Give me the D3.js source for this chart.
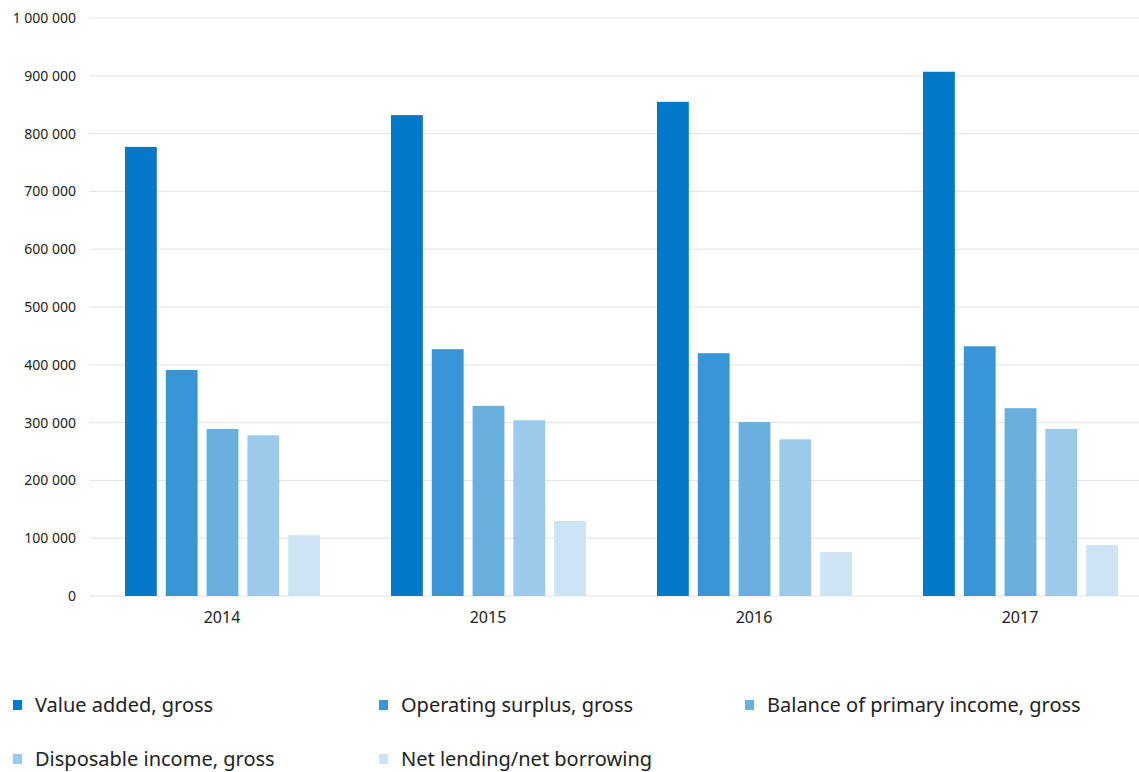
<!DOCTYPE html>
<html>
<head>
<meta charset="utf-8">
<script src="https://cdn.jsdelivr.net/npm/d3@7"></script>
<style>
html,body{margin:0;padding:0;background:#fff;}
svg{display:block;font-family:"Noto Sans",sans-serif;}
</style>
</head>
<body>
<svg id="chart" width="1139" height="772"></svg>
<script>
const years = ["2014", "2015", "2016", "2017"];
const seriesNames = ["Value added, gross", "Operating surplus, gross", "Balance of primary income, gross", "Disposable income, gross", "Net lending/net borrowing"];
const valueAdded = [777000, 832000, 855000, 907000];
const operatingSurplus = [391000, 427000, 420000, 432000];
const primaryIncome = [289000, 329000, 301000, 325000];
const disposableIncome = [278000, 304000, 271000, 289000];
const netLending = [105000, 130000, 76000, 88000];
const seriesColors = ["#0479c9", "#3896d6", "#6ab0df", "#9ccaea", "#cde4f4"];
const yTicks = [0, 100000, 200000, 300000, 400000, 500000, 600000, 700000, 800000, 900000, 1000000];

const seriesValues = [valueAdded, operatingSurplus, primaryIncome, disposableIncome, netLending];
const svg = d3.select("#chart");
const W = 1139;
const FONT = "'Noto Sans',sans-serif";

const y = d3.scaleLinear().domain([0, 1000000]).range([596, 18]);
const x0 = d3.scaleBand().domain(years).range([89, 1153]).padding(0);
const x1 = d3.scaleBand().domain(d3.range(seriesNames.length))
  .range([36, 231]).paddingInner(0.22).paddingOuter(0);

const fmt = v => d3.format(",")(v).replace(/,/g, " ");

// gridlines
svg.append("g").selectAll("line").data(yTicks).join("line")
  .attr("x1", 89).attr("x2", W)
  .attr("y1", d => y(d)).attr("y2", d => y(d))
  .attr("stroke", "#e3e3e3").attr("stroke-width", 1);

// y axis
const yAxis = svg.append("g").attr("transform", "translate(76,0)")
  .call(d3.axisLeft(y).tickValues(yTicks).tickFormat(fmt).tickSize(0).tickPadding(0));
yAxis.select(".domain").remove();
yAxis.attr("font-family", FONT);
yAxis.selectAll("text").attr("font-size", 14).attr("fill", "#222");

// bars
const groups = svg.append("g").selectAll("g").data(years).join("g")
  .attr("transform", d => `translate(${x0(d)},0)`);
groups.selectAll("rect").data((d, i) => seriesValues.map((s, k) => ({k, v: s[i]})))
  .join("rect")
  .attr("x", d => x1(d.k)).attr("width", x1.bandwidth())
  .attr("y", d => y(d.v)).attr("height", d => y(0) - y(d.v))
  .attr("fill", d => seriesColors[d.k]);

// x axis
const xAxis = svg.append("g").attr("transform", "translate(0,596)")
  .call(d3.axisBottom(x0).tickSize(0).tickPadding(16));
xAxis.select(".domain").remove();
xAxis.attr("font-family", FONT);
xAxis.selectAll("text").attr("font-size", 16).attr("fill", "#222");

// legend
const legendPos = [[13, 705], [379, 705], [745, 705], [13, 759], [379, 759]];
const leg = svg.append("g").selectAll("g").data(seriesNames).join("g")
  .attr("transform", (d, i) => `translate(${legendPos[i][0]},${legendPos[i][1]})`);
leg.append("rect").attr("x", 0).attr("y", -5).attr("width", 9).attr("height", 10)
  .attr("fill", (d, i) => seriesColors[i]);
leg.append("text").attr("x", 22).attr("y", 0).attr("dy", "0.35em")
  .attr("font-size", 20).attr("fill", "#222").text(d => d);
</script>
</body>
</html>
